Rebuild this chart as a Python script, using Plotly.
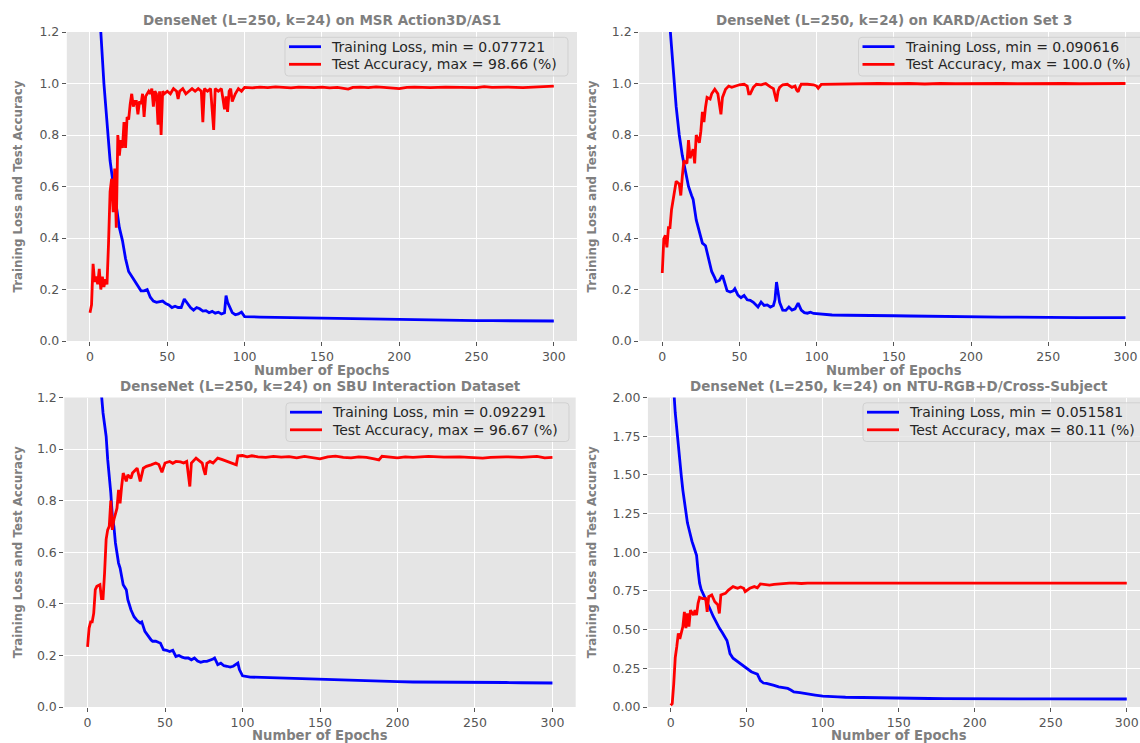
import plotly.graph_objects as go

W, H = 1140, 743

# ---------------- data ----------------
x_ticks = [0, 50, 100, 150, 200, 250, 300]
y_ticks_small = [0.0, 0.2, 0.4, 0.6, 0.8, 1.0, 1.2]
y_ticks_big = [0.0, 0.25, 0.5, 0.75, 1.0, 1.25, 1.5, 1.75, 2.0]

titles = [
    "DenseNet (L=250, k=24) on MSR Action3D/AS1",
    "DenseNet (L=250, k=24) on KARD/Action Set 3",
    "DenseNet (L=250, k=24) on SBU Interaction Dataset",
    "DenseNet (L=250, k=24) on NTU-RGB+D/Cross-Subject",
]
loss_min_labels = ["0.077721", "0.090616", "0.092291", "0.051581"]
acc_max_labels = ["98.66", "100.0", "96.67", "80.11"]

# MSR Action3D / AS1
msr_loss_ep = [0, 2, 4, 6, 7, 9, 11, 13, 15, 17, 19, 21, 23, 25, 27, 29, 31, 33, 35, 37, 39, 41, 43,
               45, 47, 49, 51, 53, 55, 57, 59, 61, 63, 65, 67, 69, 71, 73, 75, 77, 79, 81, 83, 85, 87,
               88, 89, 90, 92, 94, 96, 98, 100, 110, 120, 130, 140, 150, 160, 170, 180, 185, 190, 200,
               210, 220, 230, 240, 250, 260, 270, 280, 290, 300]
msr_loss = [2.90, 2.20, 1.70, 1.35, 1.20, 1.00, 0.84, 0.70, 0.61, 0.53, 0.44, 0.39, 0.32, 0.27, 0.25,
            0.23, 0.215, 0.195, 0.195, 0.20, 0.17, 0.155, 0.15, 0.152, 0.155, 0.145, 0.14, 0.13, 0.135,
            0.13, 0.13, 0.163, 0.145, 0.13, 0.12, 0.13, 0.125, 0.116, 0.118, 0.11, 0.115, 0.108, 0.112,
            0.105, 0.11, 0.176, 0.15, 0.135, 0.11, 0.102, 0.105, 0.112, 0.095, 0.093, 0.092, 0.091,
            0.090, 0.089, 0.088, 0.087, 0.085, 0.086, 0.084, 0.082, 0.081, 0.081, 0.080, 0.080, 0.0795,
            0.079, 0.0788, 0.0785, 0.078, 0.0777]
msr_acc_ep = [0, 1, 2, 3, 4, 5, 6, 7, 8, 9, 10, 11, 12, 13, 14, 15, 16, 17, 18, 19, 20, 21, 22, 23, 24,
              25, 26, 27, 28, 29, 30, 31, 32, 33, 34, 35, 36, 37, 38, 39, 40, 41, 42, 43, 44, 45, 46,
              47, 48, 50, 52, 54, 56, 57, 58, 60, 62, 64, 66, 68, 70, 72, 73, 74, 76, 78, 80, 81, 83,
              85, 87, 88, 89, 90, 91, 92, 94, 96, 98, 100, 105, 110, 115, 120, 125, 130, 135, 140, 145,
              150, 155, 160, 167, 170, 175, 180, 185, 190, 195, 200, 205, 210, 220, 230, 240, 250, 255,
              260, 270, 280, 290, 300]
msr_acc = [0.11, 0.14, 0.30, 0.23, 0.25, 0.22, 0.28, 0.20, 0.25, 0.21, 0.24, 0.22, 0.38, 0.58, 0.63,
           0.50, 0.67, 0.44, 0.80, 0.72, 0.78, 0.75, 0.85, 0.75, 0.87, 0.86, 0.92, 0.96, 0.91, 0.93,
           0.93, 0.88, 0.93, 0.92, 0.96, 0.87, 0.95, 0.96, 0.97, 0.96, 0.98, 0.91, 0.97, 0.96, 0.84,
           0.97, 0.80, 0.97, 0.96, 0.97, 0.96, 0.98, 0.97, 0.94, 0.97, 0.98, 0.96, 0.97, 0.98, 0.97,
           0.98, 0.97, 0.85, 0.98, 0.97, 0.98, 0.82, 0.98, 0.97, 0.98, 0.90, 0.95, 0.89, 0.97, 0.98,
           0.93, 0.96, 0.98, 0.97, 0.985, 0.983, 0.986, 0.984, 0.987, 0.985, 0.983, 0.986, 0.985,
           0.984, 0.986, 0.983, 0.985, 0.978, 0.985, 0.986, 0.984, 0.987, 0.985, 0.983, 0.980, 0.985,
           0.986, 0.984, 0.986, 0.985, 0.984, 0.988, 0.985, 0.986, 0.984, 0.987, 0.99]

# KARD / Action Set 3
kard_loss_ep = [0, 2, 4, 5, 7, 9, 11, 13, 15, 17, 19, 20, 22, 24, 26, 28, 30, 32, 34, 35, 37, 39, 40,
                42, 44, 46, 47, 49, 51, 53, 55, 57, 59, 61, 62, 64, 66, 68, 70, 72, 73, 74, 75, 76, 78,
                80, 82, 84, 86, 88, 90, 92, 94, 96, 98, 100, 102, 110, 120, 130, 140, 150, 160, 170,
                175, 180, 190, 200, 210, 220, 230, 240, 250, 260, 270, 280, 290, 300]
kard_loss = [2.60, 1.90, 1.40, 1.22, 1.05, 0.91, 0.80, 0.72, 0.66, 0.60, 0.565, 0.55, 0.47, 0.42,
             0.38, 0.37, 0.32, 0.27, 0.245, 0.23, 0.235, 0.255, 0.235, 0.195, 0.19, 0.195, 0.203,
             0.178, 0.168, 0.177, 0.16, 0.158, 0.15, 0.135, 0.132, 0.151, 0.138, 0.14, 0.132, 0.138,
             0.16, 0.229, 0.19, 0.15, 0.12, 0.119, 0.132, 0.12, 0.125, 0.147, 0.12, 0.11, 0.108,
             0.112, 0.107, 0.106, 0.103, 0.101, 0.100, 0.100, 0.099, 0.098, 0.097, 0.096, 0.097,
             0.095, 0.094, 0.094, 0.093, 0.093, 0.093, 0.092, 0.092, 0.092, 0.091, 0.091, 0.091, 0.0906]
kard_acc_ep = [0, 1, 2, 3, 4, 5, 6, 8, 9, 11, 12, 13, 14, 16, 17, 18, 20, 21, 22, 24, 25, 26, 27, 28,
               29, 31, 32, 34, 36, 38, 39, 41, 43, 45, 47, 50, 53, 55, 56, 57, 59, 61, 64, 67, 70, 72,
               73, 74, 75, 76, 78, 81, 84, 86, 87, 88, 89, 90, 94, 98, 100, 101, 103, 110, 120, 130,
               140, 150, 160, 170, 180, 190, 200, 210, 220, 230, 240, 250, 260, 270, 280, 290, 300]
kard_acc = [0.264, 0.397, 0.41, 0.364, 0.44, 0.44, 0.51, 0.577, 0.62, 0.61, 0.565, 0.64, 0.70, 0.69,
            0.78, 0.71, 0.745, 0.69, 0.80, 0.77, 0.815, 0.89, 0.85, 0.907, 0.946, 0.94, 0.96, 0.978,
            0.96, 0.88, 0.946, 0.978, 0.99, 0.985, 0.99, 0.995, 0.997, 0.99, 0.96, 0.96, 0.985,
            0.997, 0.995, 1.0, 0.987, 0.98, 0.955, 0.93, 0.97, 0.985, 0.995, 0.997, 0.985, 0.99,
            0.975, 0.968, 0.985, 0.997, 0.997, 0.995, 0.99, 0.982, 0.997, 0.998, 1.0, 0.999, 1.0,
            0.999, 1.0, 0.998, 1.0, 0.999, 1.0, 0.999, 1.0, 0.999, 1.0, 0.999, 1.0, 0.999, 1.0,
            0.999, 1.0]

# SBU Interaction Dataset
sbu_loss_ep = [0, 2, 4, 6, 8, 9, 10, 12, 13, 15, 16, 17, 18, 20, 21, 23, 25, 26, 28, 30, 32, 34, 35,
               37, 39, 41, 42, 44, 46, 47, 49, 51, 53, 55, 57, 59, 61, 63, 65, 67, 69, 71, 73, 75, 77,
               79, 81, 82, 84, 86, 88, 90, 92, 94, 96, 97, 98, 100, 105, 110, 120, 130, 140, 150, 160,
               170, 180, 190, 200, 210, 220, 230, 240, 250, 260, 270, 280, 290, 300]
sbu_loss = [2.80, 2.20, 1.80, 1.50, 1.28, 1.20, 1.14, 1.05, 0.96, 0.83, 0.74, 0.70, 0.636, 0.558,
            0.539, 0.474, 0.455, 0.416, 0.377, 0.35, 0.335, 0.326, 0.33, 0.293, 0.274, 0.26, 0.255,
            0.255, 0.25, 0.248, 0.222, 0.22, 0.215, 0.22, 0.196, 0.20, 0.193, 0.19, 0.19, 0.183,
            0.19, 0.178, 0.173, 0.177, 0.177, 0.18, 0.186, 0.19, 0.164, 0.17, 0.16, 0.158, 0.155,
            0.158, 0.164, 0.17, 0.145, 0.121, 0.116, 0.115, 0.112, 0.110, 0.108, 0.106, 0.104,
            0.103, 0.101, 0.100, 0.098, 0.097, 0.097, 0.096, 0.096, 0.095, 0.095, 0.095, 0.094,
            0.094, 0.093]
sbu_acc_ep = [0, 1, 2, 3, 4, 5, 6, 8, 9, 10, 11, 12, 13, 14, 15, 16, 17, 19, 20, 21, 22, 23, 25, 26,
              28, 29, 32, 34, 36, 38, 41, 44, 46, 48, 50, 53, 55, 57, 60, 62, 64, 65, 66, 67, 70, 72,
              74, 75, 76, 77, 79, 81, 84, 87, 89, 91, 94, 96, 97, 100, 103, 106, 110, 115, 120, 125,
              130, 135, 140, 145, 150, 155, 160, 165, 170, 175, 180, 185, 188, 190, 195, 200, 205,
              210, 220, 230, 240, 250, 255, 260, 270, 280, 290, 295, 300]
sbu_acc = [0.233, 0.306, 0.33, 0.33, 0.364, 0.455, 0.468, 0.474, 0.42, 0.42, 0.52, 0.65, 0.687,
           0.70, 0.80, 0.687, 0.726, 0.771, 0.842, 0.79, 0.855, 0.907, 0.875, 0.90, 0.887, 0.907,
           0.926, 0.875, 0.926, 0.933, 0.939, 0.946, 0.94, 0.91, 0.946, 0.952, 0.945, 0.952, 0.95,
           0.946, 0.952, 0.90, 0.855, 0.946, 0.965, 0.955, 0.946, 0.92, 0.90, 0.945, 0.952, 0.946,
           0.965, 0.959, 0.955, 0.952, 0.946, 0.939, 0.974, 0.975, 0.97, 0.974, 0.97, 0.968, 0.972,
           0.969, 0.971, 0.966, 0.972, 0.968, 0.962, 0.97, 0.973, 0.968, 0.966, 0.97, 0.968, 0.962,
           0.958, 0.972, 0.968, 0.966, 0.97, 0.968, 0.972, 0.969, 0.97, 0.968, 0.965, 0.968, 0.97,
           0.968, 0.972, 0.966, 0.968]

# NTU-RGB+D / Cross-Subject
ntu_loss_ep = [0, 1, 2, 3, 4, 5, 6, 7, 8, 9, 10, 11, 12, 13, 14, 15, 16, 17, 18, 19, 20, 22, 24, 26,
               28, 30, 32, 34, 36, 37, 38, 39, 41, 43, 45, 47, 49, 51, 53, 55, 57, 59, 61, 63, 65, 68,
               71, 74, 77, 79, 81, 85, 90, 95, 100, 105, 110, 115, 120, 130, 140, 150, 160, 170, 180,
               190, 200, 210, 220, 230, 240, 250, 260, 270, 280, 290, 300]
ntu_loss = [2.60, 2.30, 2.05, 1.90, 1.79, 1.67, 1.57, 1.49, 1.40, 1.32, 1.24, 1.19, 1.15, 1.10,
            1.07, 1.04, 1.01, 0.98, 0.88, 0.80, 0.76, 0.72, 0.68, 0.63, 0.585, 0.545, 0.51, 0.48,
            0.45, 0.43, 0.39, 0.345, 0.315, 0.30, 0.285, 0.268, 0.255, 0.24, 0.228, 0.22, 0.212,
            0.17, 0.155, 0.152, 0.148, 0.14, 0.13, 0.125, 0.12, 0.11, 0.097, 0.093, 0.087, 0.077,
            0.07, 0.066, 0.065, 0.063, 0.062, 0.059, 0.057, 0.056, 0.055, 0.055, 0.054, 0.053,
            0.053, 0.053, 0.052, 0.052, 0.052, 0.052, 0.052, 0.051, 0.052, 0.052, 0.0516]
ntu_acc_ep = [0, 1, 2, 3, 4, 5, 6, 7, 8, 9, 10, 11, 12, 13, 15, 16, 17, 18, 19, 21, 23, 24, 25, 27,
              29, 30, 31, 32, 33, 36, 38, 41, 44, 46, 48, 49, 51, 52, 55, 57, 59, 62, 65, 68, 71, 75,
              78, 82, 86, 90, 95, 100, 110, 120, 130, 140, 150, 160, 170, 180, 190, 200, 210, 220,
              230, 240, 250, 260, 270, 280, 290, 300]
ntu_acc = [0.01, 0.022, 0.15, 0.32, 0.39, 0.475, 0.44, 0.475, 0.52, 0.615, 0.51, 0.605, 0.52,
           0.626, 0.594, 0.626, 0.594, 0.67, 0.708, 0.70, 0.70, 0.615, 0.713, 0.724, 0.68, 0.67,
           0.66, 0.605, 0.724, 0.734, 0.756, 0.778, 0.767, 0.775, 0.767, 0.745, 0.76, 0.767, 0.778,
           0.77, 0.795, 0.79, 0.788, 0.792, 0.795, 0.798, 0.80, 0.80, 0.798, 0.801, 0.80, 0.802,
           0.80, 0.801, 0.80, 0.802, 0.80, 0.801, 0.80, 0.801, 0.80, 0.801, 0.80, 0.801, 0.80,
           0.801, 0.80, 0.801, 0.80, 0.801, 0.80, 0.801]

panels = [
    (msr_loss_ep, msr_loss, msr_acc_ep, msr_acc),
    (kard_loss_ep, kard_loss, kard_acc_ep, kard_acc),
    (sbu_loss_ep, sbu_loss, sbu_acc_ep, sbu_acc),
    (ntu_loss_ep, ntu_loss, ntu_acc_ep, ntu_acc),
]

# ---------------- layout geometry (pixels) ----------------
geo = [
    dict(l=66.8, r=577.0, t=32.0, b=341.0, xr=[-15, 315], yr=[0, 1.2], yt=y_ticks_small, fmt=".1f"),
    dict(l=639.1, r=1140.0, t=32.0, b=341.0, xr=[-15, 309.4], yr=[0, 1.2], yt=y_ticks_small, fmt=".1f"),
    dict(l=64.3, r=575.7, t=397.5, b=707.0, xr=[-15, 315], yr=[0, 1.2], yt=y_ticks_small, fmt=".1f"),
    dict(l=647.9, r=1140.0, t=397.5, b=707.0, xr=[-15, 308.7], yr=[0, 2.0], yt=y_ticks_big, fmt=".2f"),
]
plot_right_true = [577.0, 1149.0, 575.7, 1149.5]
ylabel_x = [18, 592, 18, 592]
xlabel_off = [29.5, 29.5, 28.5, 28.5]
# legend boxes (left, right) in pixels
legend_box = [(285, 568), (858.5, 1146), (286, 569), (863, 1146)]

FONT = "DejaVu Sans"
TICK_C = "#555555"
LABEL_C = "#7f7f7f"
BLUE, RED = "#0000FF", "#FF0000"


def fx(px):
    return px / W


def fy(py):
    return 1 - py / H


def rounded_rect(x0, x1, y0, y1, r=3.5):
    # pixel coords (y0 top, y1 bottom) -> paper-path with rounded corners
    X0, X1, Y0, Y1 = fx(x0), fx(x1), fy(y0), fy(y1)
    rx, ry = r / W, r / H
    return (f"M {X0 + rx},{Y0} L {X1 - rx},{Y0} Q {X1},{Y0} {X1},{Y0 - ry} "
            f"L {X1},{Y1 + ry} Q {X1},{Y1} {X1 - rx},{Y1} L {X0 + rx},{Y1} "
            f"Q {X0},{Y1} {X0},{Y1 + ry} L {X0},{Y0 - ry} Q {X0},{Y0} {X0 + rx},{Y0} Z")


fig = go.Figure()
layout = dict(
    width=W, height=H,
    margin=dict(l=0, r=0, t=0, b=0, pad=0, autoexpand=False),
    paper_bgcolor="white",
    plot_bgcolor="#E5E5E5",
    font=dict(family=FONT, color=TICK_C, size=12.5),
    showlegend=False,
    annotations=[],
    shapes=[],
)

for i, (le, lv, ae, av) in enumerate(panels):
    g = geo[i]
    n = "" if i == 0 else str(i + 1)
    loss_name = f"Training Loss, min = {loss_min_labels[i]}"
    acc_name = f"Test Accuracy, max = {acc_max_labels[i]} (%)"
    fig.add_trace(go.Scatter(
        x=le, y=lv, mode="lines", line=dict(color=BLUE, width=2.8),
        name=loss_name, xaxis=f"x{n}", yaxis=f"y{n}"))
    fig.add_trace(go.Scatter(
        x=ae, y=av, mode="lines", line=dict(color=RED, width=2.8),
        name=acc_name, xaxis=f"x{n}", yaxis=f"y{n}"))

    common = dict(showgrid=True, gridcolor="white", gridwidth=1, zeroline=False, showline=False,
                  ticks="outside", ticklen=4, tickwidth=1, tickcolor=TICK_C, automargin=False,
                  tickfont=dict(family=FONT, size=12.5, color=TICK_C))
    layout[f"xaxis{n}"] = dict(domain=[g["l"] / W, g["r"] / W], range=g["xr"], tickvals=x_ticks,
                               anchor=f"y{n}", **common)
    layout[f"yaxis{n}"] = dict(domain=[1 - g["b"] / H, 1 - g["t"] / H], range=g["yr"],
                               tickvals=g["yt"], tickformat=g["fmt"], anchor=f"x{n}", **common)

    # legend (matplotlib-like box)
    bl, br = legend_box[i]
    btop, bbot = g["t"] + 5.3, g["t"] + 44.0
    rows = [g["t"] + 14.7, g["t"] + 32.3]
    layout["shapes"].append(dict(
        type="path", path=rounded_rect(bl, br, btop, bbot), xref="paper", yref="paper",
        fillcolor="rgba(229,229,229,0.8)", line=dict(color="rgba(204,204,204,0.8)", width=1),
        layer="above"))
    for ry, col, txt in zip(rows, [BLUE, RED], [loss_name, acc_name]):
        layout["shapes"].append(dict(
            type="line", x0=fx(bl + 4), x1=fx(bl + 36), y0=fy(ry), y1=fy(ry), xref="paper",
            yref="paper", line=dict(color=col, width=2.8), layer="above"))
        layout["annotations"].append(dict(
            text=txt, x=fx(bl + 44), y=fy(ry), xref="paper", yref="paper", xanchor="left",
            yanchor="middle", showarrow=False,
            font=dict(family=FONT, size=14, color="#262626")))

    cx = (g["l"] + plot_right_true[i]) / 2
    layout["annotations"].append(dict(
        text=f"<b>{titles[i]}</b>", x=fx(cx), y=fy(g["t"] - 12), xref="paper", yref="paper",
        xanchor="center", yanchor="middle", showarrow=False,
        font=dict(family=FONT, size=13.5, color=LABEL_C)))
    layout["annotations"].append(dict(
        text="<b>Number of Epochs</b>", x=fx(cx), y=fy(g["b"] + xlabel_off[i]), xref="paper",
        yref="paper", xanchor="center", yanchor="middle", showarrow=False,
        font=dict(family=FONT, size=13.2, color=LABEL_C)))
    layout["annotations"].append(dict(
        text="<b>Training Loss and Test Accuracy</b>", x=fx(ylabel_x[i]),
        y=fy((g["t"] + g["b"]) / 2), xref="paper", yref="paper", xanchor="center",
        yanchor="middle", textangle=-90, showarrow=False,
        font=dict(family=FONT, size=11.8, color=LABEL_C)))

fig.update_layout(**layout)
fig.write_html(
    "out.html",
    config={"displayModeBar": False},
    post_script="document.body.style.margin='0';document.body.style.padding='0';"
                "document.body.style.overflow='hidden';",
)
